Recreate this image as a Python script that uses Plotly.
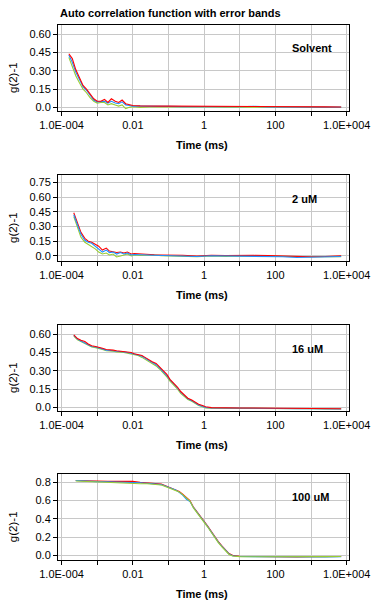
import plotly.graph_objects as go

# ---------------- data ----------------
t_solvent = [1.6e-4, 2.0e-4, 2.5e-4, 3.2e-4, 4.0e-4, 5.0e-4, 6.3e-4, 8.0e-4, 1.0e-3, 1.26e-3,
             1.6e-3, 2.0e-3, 2.5e-3, 3.2e-3, 4.0e-3, 5.0e-3, 6.3e-3, 8.0e-3, 0.01, 0.016,
             0.025, 0.04, 0.063, 0.1, 0.25, 0.63, 1.6, 4.0, 10, 25, 63, 160, 400, 1000, 2500, 7000]
solvent_red = [0.44, 0.40, 0.31, 0.24, 0.18, 0.15, 0.11, 0.07, 0.05, 0.05, 0.065, 0.04, 0.07, 0.05,
               0.04, 0.06, 0.03, 0.02, 0.015, 0.012, 0.01, 0.012, 0.01, 0.01, 0.01, 0.008, 0.01,
               0.008, 0.01, 0.006, 0.008, 0.006, 0.005, 0.004, 0.004, 0.003]
solvent_blue = [0.43, 0.37, 0.29, 0.22, 0.17, 0.14, 0.10, 0.06, 0.045, 0.045, 0.05, 0.035, 0.05,
                0.035, 0.03, 0.045, 0.02, 0.015, 0.01, 0.01, 0.008, 0.01, 0.008, 0.008, 0.006,
                0.008, 0.006, 0.006, 0.005, 0.008, 0.004, 0.005, 0.003, 0.003, 0.002, 0.002]
solvent_green = [0.41, 0.33, 0.26, 0.20, 0.15, 0.12, 0.08, 0.05, 0.035, 0.04, 0.04, 0.02, 0.03,
                 0.02, 0.01, 0.02, -0.01, 0.0, 0.005, 0.0, 0.003, 0.005, 0.003, 0.004, 0.002,
                 0.003, 0.004, 0.002, 0.003, 0.0, 0.003, 0.002, 0.001, 0.0, 0.001, 0.0]

t_2uM = [2.2e-4, 2.8e-4, 3.5e-4, 4.5e-4, 5.6e-4, 7.0e-4, 9.0e-4, 1.1e-3, 1.4e-3, 1.8e-3, 2.2e-3,
         2.8e-3, 3.5e-3, 4.5e-3, 5.6e-3, 7.0e-3, 9.0e-3, 0.011, 0.016, 0.025, 0.04, 0.063, 0.1,
         0.25, 0.63, 1.6, 4.0, 10, 25, 63, 160, 400, 1000, 2500, 7000]
uM2_red = [0.44, 0.33, 0.24, 0.18, 0.15, 0.14, 0.12, 0.10, 0.06, 0.08, 0.05, 0.04, 0.035, 0.04,
           0.03, 0.04, 0.02, 0.025, 0.02, 0.015, 0.012, 0.01, 0.01, 0.008, 0.0, 0.008, 0.005,
           0.008, 0.006, 0.004, 0.0, -0.005, -0.008, -0.005, 0.002]
uM2_blue = [0.42, 0.31, 0.22, 0.16, 0.14, 0.13, 0.10, 0.07, 0.04, 0.06, 0.035, 0.04, 0.02, 0.035,
            0.02, 0.03, 0.01, 0.015, 0.01, 0.01, 0.008, 0.006, 0.005, 0.004, -0.005, 0.002, 0.0,
            0.004, 0.0, -0.002, -0.008, -0.015, -0.01, -0.01, -0.005]
uM2_green = [0.40, 0.28, 0.19, 0.14, 0.12, 0.10, 0.07, 0.04, 0.02, 0.03, 0.01, 0.02, -0.01, 0.0,
             0.01, 0.02, 0.0, 0.01, 0.005, 0.008, 0.01, 0.004, 0.003, 0.0, -0.008, 0.0, -0.004,
             0.0, -0.002, -0.006, -0.006, -0.008, -0.008, -0.006, -0.008]

t_16uM = [2.2e-4, 2.8e-4, 3.5e-4, 4.5e-4, 5.6e-4, 7e-4, 9e-4, 1.1e-3, 1.4e-3, 1.8e-3, 2.2e-3,
          2.8e-3, 3.5e-3, 4.5e-3, 5.6e-3, 7e-3, 9e-3, 0.011, 0.014, 0.018, 0.022, 0.028, 0.035,
          0.045, 0.056, 0.07, 0.09, 0.11, 0.14, 0.18, 0.22, 0.28, 0.35, 0.45, 0.56, 0.7, 0.9,
          1.1, 1.6, 2.5, 4, 10, 25, 63, 160, 400, 1000, 2500, 7000]
uM16_red = [0.595, 0.565, 0.55, 0.54, 0.52, 0.505, 0.50, 0.495, 0.485, 0.475, 0.47, 0.47, 0.465,
            0.46, 0.46, 0.455, 0.45, 0.44, 0.435, 0.425, 0.41, 0.39, 0.375, 0.36, 0.33, 0.30,
            0.27, 0.23, 0.20, 0.165, 0.13, 0.10, 0.075, 0.06, 0.045, 0.025, 0.015, 0.005,
            -0.002, -0.004, -0.004, -0.005, -0.005, -0.006, -0.008, -0.01, -0.01, -0.011, -0.012]
uM16_blue = [0.59, 0.56, 0.545, 0.53, 0.515, 0.50, 0.495, 0.49, 0.48, 0.47, 0.465, 0.465, 0.46,
             0.46, 0.455, 0.45, 0.445, 0.435, 0.43, 0.42, 0.405, 0.385, 0.37, 0.35, 0.325, 0.295,
             0.26, 0.225, 0.195, 0.16, 0.125, 0.095, 0.07, 0.055, 0.04, 0.02, 0.01, 0.0,
             -0.004, -0.005, -0.005, -0.006, -0.006, -0.007, -0.009, -0.011, -0.011, -0.012, -0.013]
uM16_green = [0.585, 0.555, 0.54, 0.525, 0.51, 0.495, 0.49, 0.485, 0.475, 0.465, 0.46, 0.46, 0.455,
              0.455, 0.45, 0.445, 0.44, 0.43, 0.425, 0.41, 0.395, 0.38, 0.36, 0.34, 0.315, 0.285,
              0.25, 0.215, 0.185, 0.15, 0.115, 0.085, 0.065, 0.05, 0.035, 0.015, 0.005, -0.005,
              -0.006, -0.006, -0.006, -0.007, -0.007, -0.008, -0.01, -0.012, -0.012, -0.013, -0.013]

t_100uM = [2.5e-4, 5e-4, 1e-3, 2e-3, 4e-3, 0.01, 0.016, 0.025, 0.04, 0.063, 0.1, 0.16, 0.2, 0.25,
           0.32, 0.4, 0.5, 0.63, 0.8, 1.0, 1.26, 1.6, 2.0, 2.5, 3.2, 4.0, 5.0, 6.3, 10, 25, 63,
           160, 400, 1000, 2500, 7000]
uM100_red = [0.82, 0.815, 0.81, 0.81, 0.81, 0.81, 0.80, 0.795, 0.79, 0.78, 0.75, 0.72, 0.70, 0.67,
             0.63, 0.60, 0.53, 0.48, 0.43, 0.38, 0.32, 0.26, 0.20, 0.15, 0.10, 0.06, 0.02, 0.0,
             -0.01, -0.012, -0.015, -0.015, -0.018, -0.015, -0.015, -0.012]
uM100_blue = [0.82, 0.812, 0.808, 0.806, 0.805, 0.80, 0.795, 0.79, 0.785, 0.775, 0.745, 0.715,
              0.69, 0.66, 0.615, 0.59, 0.525, 0.475, 0.425, 0.37, 0.315, 0.255, 0.195, 0.145,
              0.095, 0.055, 0.015, -0.005, -0.012, -0.014, -0.016, -0.017, -0.019, -0.018,
              -0.017, -0.015]
uM100_green = [0.815, 0.81, 0.80, 0.795, 0.79, 0.785, 0.785, 0.785, 0.78, 0.77, 0.74, 0.71, 0.695,
               0.665, 0.625, 0.595, 0.52, 0.47, 0.42, 0.365, 0.31, 0.25, 0.19, 0.14, 0.09, 0.05,
               0.01, -0.008, -0.014, -0.016, -0.017, -0.016, -0.017, -0.016, -0.014, -0.012]

panel_labels = ["Solvent", "2 uM", "16 uM", "100 uM"]
x_tick_vals = [1e-4, 1e-3, 1e-2, 1e-1, 1, 10, 100, 1000, 1e4]
x_tick_text = ["1.0E-004", "", "0.01", "", "1", "", "100", "", "1.0E+004"]
y_ticks = [
    ([0.0, 0.15, 0.30, 0.45, 0.60], ["0.0", "0.15", "0.30", "0.45", "0.60"]),
    ([0.0, 0.15, 0.30, 0.45, 0.60, 0.75], ["0.0", "0.15", "0.30", "0.45", "0.60", "0.75"]),
    ([0.0, 0.15, 0.30, 0.45, 0.60], ["0.0", "0.15", "0.30", "0.45", "0.60"]),
    ([0.0, 0.2, 0.4, 0.6, 0.8], ["0.0", "0.2", "0.4", "0.6", "0.8"]),
]
y_ranges = [[-0.03, 0.676], [-0.051, 0.824], [-0.03, 0.676], [-0.051, 0.888]]

RED, BLUE, GREEN = "#ff0000", "#1e90ff", "#9acd32"
panels = [
    (t_solvent, [(solvent_green, GREEN), (solvent_blue, BLUE), (solvent_red, RED)]),
    (t_2uM, [(uM2_green, GREEN), (uM2_red, RED), (uM2_blue, BLUE)]),
    (t_16uM, [(uM16_green, GREEN), (uM16_blue, BLUE), (uM16_red, RED)]),
    (t_100uM, [(uM100_red, RED), (uM100_blue, BLUE), (uM100_green, GREEN)]),
]

# ---------------- layout geometry ----------------
W, H = 379, 604
ML, MR, MT, MB = 58, 30, 25, 44
PH = H - MT - MB
PW = W - ML - MR
panel_px = [(25, 111), (175, 261), (325, 411), (474.3, 560)]  # top, bottom pixel


def py(v):
    return (H - MB - v) / PH


def px(v):
    return (v - ML) / PW


FONT = "Liberation Sans, Arial, sans-serif"

fig = go.Figure()
annotations = []
layout = {}
for i, (t, series) in enumerate(panels):
    n = i + 1
    xa = "x" if n == 1 else f"x{n}"
    ya = "y" if n == 1 else f"y{n}"
    for vals, col in series:
        fig.add_trace(go.Scatter(x=t, y=vals, mode="lines", xaxis=xa, yaxis=ya,
                                 line=dict(color=col, width=1.1), showlegend=False,
                                 hoverinfo="skip"))
    top, bot = panel_px[i]
    axis_common = dict(showline=True, linecolor="black", linewidth=1, mirror=True,
                       showgrid=True, gridcolor="#c8c8c8", gridwidth=1, zeroline=False,
                       ticks="outside", ticklen=4, tickcolor="black", automargin=False,
                       tickfont=dict(family=FONT, size=11, color="black"))
    layout[f"xaxis{n if n > 1 else ''}"] = dict(
        axis_common, type="log", range=[-4.10, 4.065], domain=[0, 1],
        anchor=ya, tickmode="array", tickvals=x_tick_vals, ticktext=x_tick_text)
    yv, yt = y_ticks[i]
    layout[f"yaxis{n if n > 1 else ''}"] = dict(
        axis_common, range=y_ranges[i], domain=[py(bot), py(top)], anchor=xa,
        tickmode="array", tickvals=yv, ticktext=yt)
    # axis titles
    annotations.append(dict(text="<b>Time (ms)</b>", xref="paper", yref="paper",
                            x=px(202), y=py(bot + 34), xanchor="center", yanchor="middle",
                            showarrow=False, font=dict(family=FONT, size=11, color="black")))
    annotations.append(dict(text="g(2)-1", xref="paper", yref="paper", textangle=-90,
                            x=px(13), y=py((top + bot) / 2 + 10), xanchor="center",
                            yanchor="middle", showarrow=False,
                            font=dict(family=FONT, size=11.5, color="black")))
    label_y = [48, 198.5, 349.5, 497][i]
    annotations.append(dict(text=f"<b>{panel_labels[i]}</b>", xref="paper", yref="paper",
                            x=px(290), y=py(label_y), xanchor="left", yanchor="middle",
                            showarrow=False, font=dict(family=FONT, size=11, color="black")))

annotations.append(dict(text="<b>Auto correlation function with error bands</b>",
                        xref="paper", yref="paper", x=px(58), y=py(13.5), xanchor="left",
                        yanchor="middle", showarrow=False,
                        font=dict(family=FONT, size=11, color="black")))

fig.update_layout(width=W, height=H, margin=dict(l=ML, r=MR, t=MT, b=MB, autoexpand=False),
                  paper_bgcolor="white", plot_bgcolor="white", annotations=annotations,
                  **layout)
fig.write_html("out.html", config={"displayModeBar": False},
               post_script="document.body.style.margin='0px';"
                           "document.body.style.overflow='hidden';")
